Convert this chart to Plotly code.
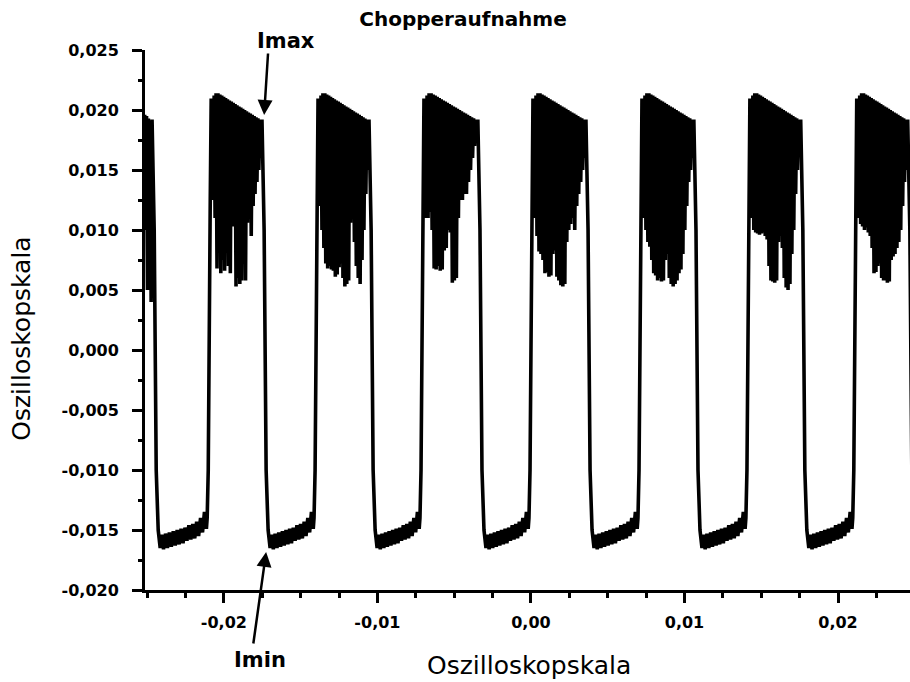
import numpy as np
import plotly.graph_objects as go

# ---------------- data (oscilloscope units) ----------------
# edge times of the chopped signal
rise_x = [-0.02096, -0.01400, -0.00710, 0.00000, 0.00710, 0.01413, 0.02109]
fall_x = [-0.02461, -0.01745, -0.01048, -0.00339, 0.00365, 0.01068, 0.01764, 0.02461]

# partial "high" segment at the very left
lead_x = [-0.02516, -0.02510, -0.02504, -0.02498, -0.02492, -0.02486, -0.02480, -0.02474, -0.02468]
lead_y = [0.0196, 0.0100, 0.0195, 0.0050, 0.0193, 0.0082, 0.0191, 0.0040, 0.0190]

# upper envelope of the high level (same shape each period)
high_top = [0.0208, 0.0212, 0.0214, 0.0214, 0.0213, 0.0212, 0.0211, 0.0210, 0.0209,
            0.0208, 0.0207, 0.0206, 0.0205, 0.0204, 0.0203, 0.0202, 0.0201, 0.0200,
            0.0199, 0.0198, 0.0197, 0.0196, 0.0195, 0.0194, 0.0193, 0.0192]

# lowest points of the noise spikes on each high level
spike_A = [0.0125, 0.0110, 0.0068, 0.0090, 0.0064, 0.0075, 0.0066, 0.0100, 0.0070,
           0.0064, 0.0103, 0.0110, 0.0053, 0.0060, 0.0055, 0.0058, 0.0080, 0.0058,
           0.0106, 0.0110, 0.0095, 0.0120, 0.0130, 0.0140, 0.0150, 0.0160]
spike_B = [0.0120, 0.0100, 0.0085, 0.0072, 0.0068, 0.0070, 0.0067, 0.0066, 0.0061,
           0.0063, 0.0069, 0.0072, 0.0060, 0.0053, 0.0055, 0.0058, 0.0106, 0.0110,
           0.0090, 0.0070, 0.0060, 0.0055, 0.0075, 0.0100, 0.0130, 0.0150]
spike_C = [0.0110, 0.0110, 0.0115, 0.0100, 0.0068, 0.0067, 0.0070, 0.0066, 0.0067,
           0.0083, 0.0085, 0.0100, 0.0098, 0.0056, 0.0058, 0.0060, 0.0110, 0.0125,
           0.0125, 0.0130, 0.0130, 0.0140, 0.0150, 0.0160, 0.0170, 0.0175]
spike_D = [0.0110, 0.0095, 0.0082, 0.0080, 0.0075, 0.0064, 0.0065, 0.0061, 0.0062,
           0.0080, 0.0083, 0.0061, 0.0058, 0.0054, 0.0053, 0.0055, 0.0090, 0.0100,
           0.0105, 0.0110, 0.0100, 0.0120, 0.0130, 0.0140, 0.0150, 0.0160]
spike_E = [0.0110, 0.0100, 0.0090, 0.0086, 0.0075, 0.0064, 0.0062, 0.0058, 0.0060,
           0.0057, 0.0058, 0.0075, 0.0080, 0.0060, 0.0055, 0.0053, 0.0055, 0.0058,
           0.0064, 0.0067, 0.0080, 0.0100, 0.0120, 0.0140, 0.0150, 0.0160]
spike_F = [0.0110, 0.0100, 0.0098, 0.0097, 0.0096, 0.0097, 0.0098, 0.0095, 0.0092,
           0.0070, 0.0058, 0.0057, 0.0056, 0.0058, 0.0090, 0.0095, 0.0085, 0.0060,
           0.0052, 0.0050, 0.0055, 0.0080, 0.0100, 0.0130, 0.0150, 0.0165]
spike_G = [0.0110, 0.0105, 0.0103, 0.0100, 0.0102, 0.0098, 0.0095, 0.0085, 0.0064,
           0.0065, 0.0070, 0.0072, 0.0060, 0.0058, 0.0058, 0.0056, 0.0057, 0.0075,
           0.0078, 0.0080, 0.0085, 0.0090, 0.0100, 0.0120, 0.0140, 0.0150]
spike_bottoms = [spike_A, spike_B, spike_C, spike_D, spike_E, spike_F, spike_G]

# low level (noisy band, slowly recovering)
low_level = [-0.0154, -0.0166, -0.0153, -0.0165, -0.0152, -0.0164, -0.0151, -0.0163,
             -0.0150, -0.0162, -0.0149, -0.0161, -0.0148, -0.0159, -0.0146, -0.0158,
             -0.0145, -0.0157, -0.0143, -0.0155, -0.0140, -0.0152, -0.0135, -0.0149]

# edge shapes (offset from edge time, value)
fall_dx = [-0.00007, 0.00007, 0.00020, 0.00033, 0.00046]
fall_y = [0.0192, 0.0100, -0.0100, -0.0150, -0.0165]
rise_dx = [-0.00013, -0.00006, 0.00007, 0.00013]
rise_y = [-0.0140, -0.0100, 0.0125, 0.0208]

x_ticks = [-0.02, -0.01, 0.0, 0.01, 0.02]
x_ticktext = ["-0,02", "-0,01", "0,00", "0,01", "0,02"]
y_ticks = [-0.020, -0.015, -0.010, -0.005, 0.000, 0.005, 0.010, 0.015, 0.020, 0.025]
y_ticktext = ["-0,020", "-0,015", "-0,010", "-0,005", "0,000",
              "0,005", "0,010", "0,015", "0,020", "0,025"]

# ---------------- assemble the trace ----------------
xs, ys = list(lead_x), list(lead_y)


def add_fall(f):
    for dx, y in zip(fall_dx, fall_y):
        xs.append(f + dx)
        ys.append(y)


add_fall(fall_x[0])
for k, r in enumerate(rise_x):
    f_prev = fall_x[k]
    f_next = fall_x[k + 1]
    # low level
    lx = np.linspace(f_prev + 0.00055, r - 0.00018, len(low_level))
    xs.extend(lx.tolist())
    ys.extend(low_level)
    # rising edge
    for dx, y in zip(rise_dx, rise_y):
        xs.append(r + dx)
        ys.append(y)
    # noisy high level
    bottoms = spike_bottoms[k]
    hx = np.linspace(r + 0.00020, f_next - 0.00015, 2 * len(bottoms))
    for i in range(len(bottoms)):
        xs.append(hx[2 * i]); ys.append(high_top[i])
        xs.append(hx[2 * i + 1]); ys.append(bottoms[i])
    add_fall(f_next)
# a bit of low level after the last edge (outside the visible range)
xs.extend([fall_x[-1] + 0.0007, fall_x[-1] + 0.0012])
ys.extend([-0.0158, -0.0155])

fig = go.Figure()
fig.add_trace(go.Scatter(x=xs, y=ys, mode="lines",
                         line=dict(color="black", width=3.6), hoverinfo="skip",
                         showlegend=False))

tickfont = dict(family="DejaVu Sans", size=16, color="black", weight="bold")

fig.update_xaxes(range=[-0.02514, 0.02469], showline=True, linewidth=3, linecolor="black",
                 ticks="outside", ticklen=10, tickwidth=3, tickcolor="black",
                 tickvals=x_ticks, ticktext=x_ticktext, tickfont=tickfont,
                 ticklabelstandoff=6,
                 minor=dict(dtick=0.0025, tick0=0, ticks="outside", ticklen=5, tickwidth=3,
                            tickcolor="black"),
                 showgrid=False, zeroline=False, mirror=False)
fig.update_yaxes(range=[-0.020, 0.025], showline=True, linewidth=3, linecolor="black",
                 ticks="outside", ticklen=10, tickwidth=3, tickcolor="black",
                 tickvals=y_ticks, ticktext=y_ticktext, tickfont=tickfont,
                 ticklabelstandoff=10,
                 minor=dict(dtick=0.0025, tick0=0, ticks="outside", ticklen=4, tickwidth=3,
                            tickcolor="black"),
                 showgrid=False, zeroline=False, mirror=False)

ann = []
# axis titles
ann.append(dict(text="Oszilloskopskala", xref="paper", yref="paper", x=0.502, y=-0.139,
                showarrow=False, font=dict(family="DejaVu Sans", size=25, color="black"),
                xanchor="center", yanchor="middle"))
ann.append(dict(text="Oszilloskopskala", xref="paper", yref="paper", x=-0.161, y=0.465,
                showarrow=False, textangle=-90,
                font=dict(family="DejaVu Sans", size=25, color="black"),
                xanchor="center", yanchor="middle"))
# labels
lab_font = dict(family="DejaVu Sans", size=21, color="black", weight="bold")
ann.append(dict(text="Imax", xref="paper", yref="paper", x=0.1843, y=1.0167,
                showarrow=False, font=lab_font, xanchor="center", yanchor="middle"))
ann.append(dict(text="Imin", xref="paper", yref="paper", x=0.1503, y=-0.1296,
                showarrow=False, font=lab_font, xanchor="center", yanchor="middle"))
# arrows pointing to the maximum and minimum
ann.append(dict(text="", x=-0.01738, y=0.01958, xref="x", yref="y", showarrow=True,
                ax=4, ay=-63, arrowhead=2, arrowsize=1.2, arrowwidth=2.5,
                arrowcolor="black", standoff=0))
ann.append(dict(text="", x=-0.01725, y=-0.01683, xref="x", yref="y", showarrow=True,
                ax=-13, ay=93, arrowhead=2, arrowsize=1.2, arrowwidth=2.5,
                arrowcolor="black", standoff=0))

fig.update_layout(
    width=910, height=682, autosize=False,
    margin=dict(l=145, r=0, t=50, b=92),
    paper_bgcolor="white", plot_bgcolor="white",
    title=dict(text="Chopperaufnahme", xref="container", yref="container",
               x=0.5088, y=0.972, xanchor="center", yanchor="middle",
               font=dict(family="DejaVu Sans", size=20, color="black", weight="bold")),
    annotations=ann,
)

fig.write_html("out.html")
